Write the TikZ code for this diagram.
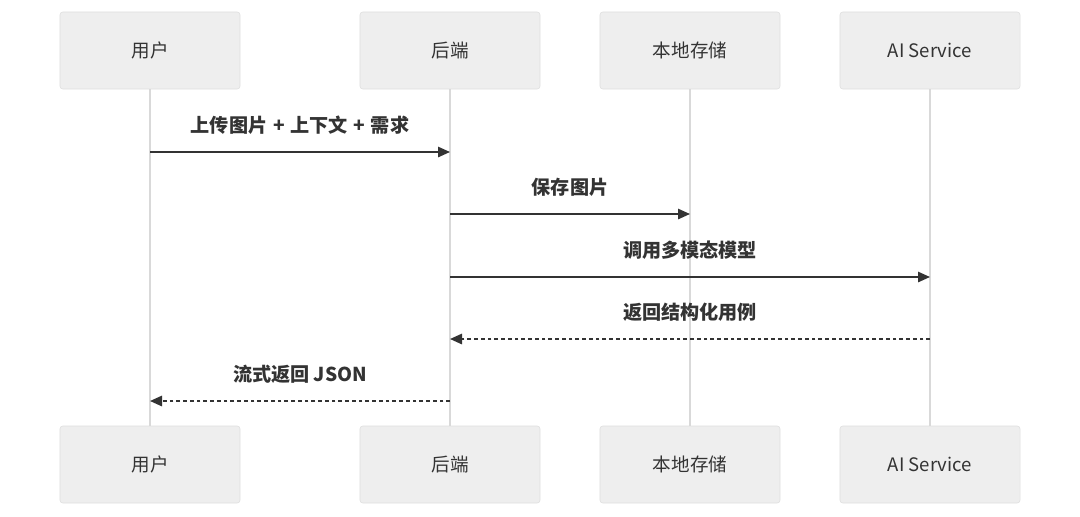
\documentclass[tikz,border=0pt]{standalone}
\usepackage{fontspec}
\setmainfont{Noto Sans CJK SC}
\usepackage{tikz}
\usetikzlibrary{arrows.meta}
\definecolor{boxfill}{HTML}{EEEEEE}
\definecolor{boxline}{HTML}{DEDEDE}
\definecolor{lifeline}{HTML}{D9D9D9}
\definecolor{ink}{HTML}{333333}
\newcommand{\plussep}{\hspace{0.3em}+\hspace{0.3em}}

\begin{document}
\begin{tikzpicture}[x=0.025cm,y=-0.025cm,font=\fontsize{13.2}{16}\selectfont,
    party/.style={draw=boxline,fill=boxfill,text=ink,rounded corners=2pt,minimum width=4.5cm,minimum height=1.925cm,inner sep=0pt},
    life/.style={draw=lifeline,line width=1.3pt},
    msg/.style={draw=ink,line width=1.2pt,-{Triangle[length=3mm,width=2.6mm]}},
    reply/.style={msg,dash pattern=on 2.6pt off 2.2pt},
    lbl/.style={midway,yshift=0.675cm,text=ink,font=\fontsize{13.6}{16}\selectfont\bfseries}]
    \useasboundingbox (0,0) rectangle (1080,516);
    % participants, top and bottom, with their lifelines
    \foreach \n/\x/\t in {u/150/用户,b/450/后端,s/690/本地存储,a/930/AI Service}{
      \node[party] (\n1) at (\x,50.5) {\t};
      \node[party] (\n2) at (\x,464.5) {\t};
      \draw[life] (\n1) -- (\n2);
    }
    \draw[msg] (u1 |- 0,152) -- node[lbl]{上传图片\plussep 上下文\plussep 需求} (b1 |- 0,152);
    \draw[msg] (b1 |- 0,214) -- node[lbl]{保存图片} (s1 |- 0,214);
    \draw[msg] (b1 |- 0,277) -- node[lbl]{调用多模态模型} (a1 |- 0,277);
    \draw[reply] (a1 |- 0,339) -- node[lbl]{返回结构化用例} (b1 |- 0,339);
    \draw[reply] (b1 |- 0,401) -- node[lbl]{流式返回 JSON} (u1 |- 0,401);
  \end{tikzpicture}
\end{document}
